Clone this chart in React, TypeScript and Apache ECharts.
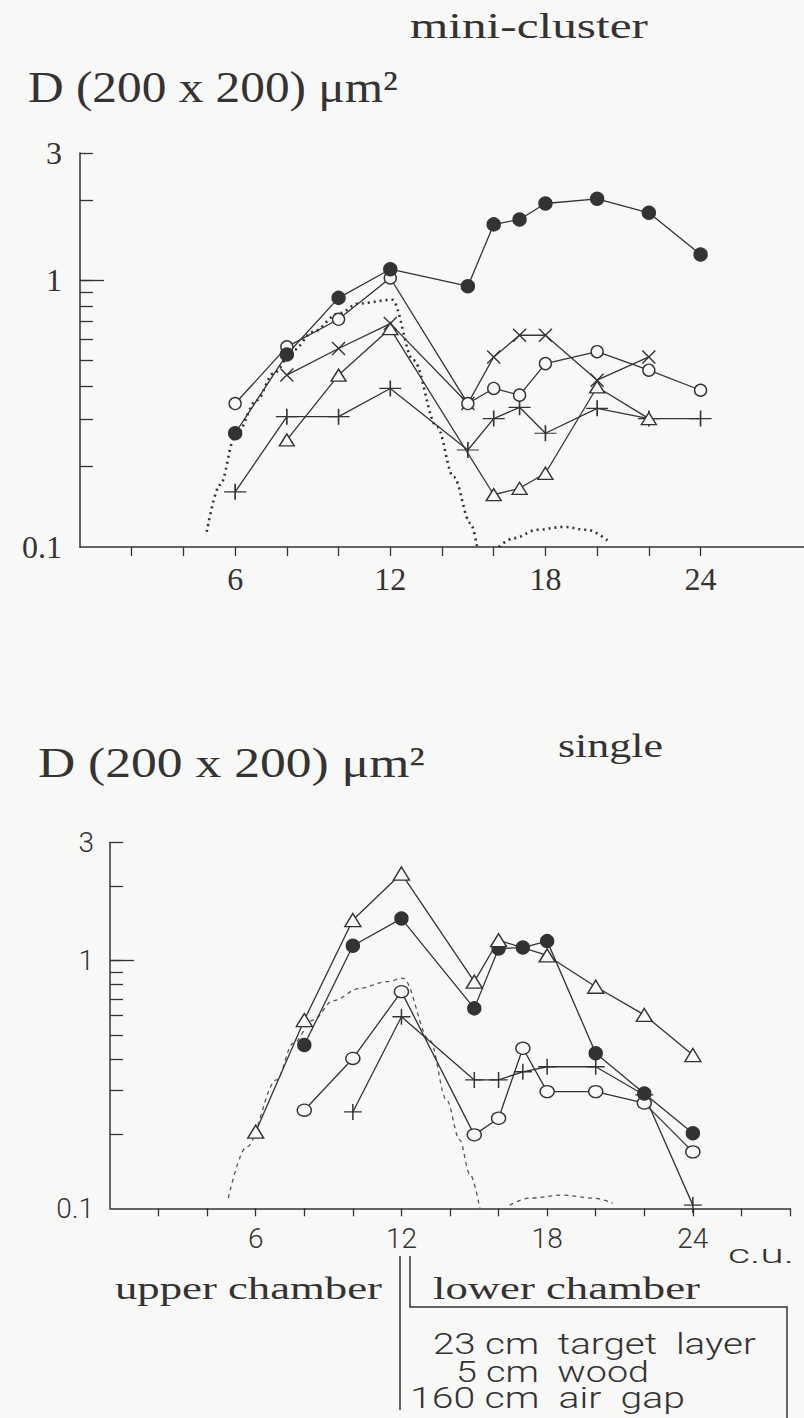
import React, { useEffect, useRef } from 'react';
import * as echarts from 'echarts';

const BG = '#f8f8f6';
const INK = '#333333';
const SERIF = '"Liberation Serif", "Times New Roman", serif';
const SANS = 'Roboto, "DejaVu Sans", sans-serif';

// ---------- top panel: mini-cluster ----------
const topFilled = [[6, 0.267], [8, 0.527], [10, 0.859], [12, 1.10], [15, 0.95], [16, 1.62], [17, 1.69], [18, 1.94], [20, 2.02], [22, 1.79], [24, 1.25]];
const topOpen = [[6, 0.345], [8, 0.563], [10, 0.714], [12, 1.02], [15, 0.345], [16, 0.393], [17, 0.371], [18, 0.487], [20, 0.54], [22, 0.46], [24, 0.387]];
const topCross = [[8, 0.441], [10, 0.555], [12, 0.688], [15, 0.345], [16, 0.516], [17, 0.622], [18, 0.622], [20, 0.422], [22, 0.516]];
const topTriangle = [[8, 0.252], [10, 0.441], [12, 0.659], [16, 0.157], [17, 0.166], [18, 0.189], [20, 0.398], [22, 0.303]];
const topPlus = [[6, 0.161], [8, 0.308], [10, 0.308], [12, 0.393], [15, 0.231], [16, 0.303], [17, 0.334], [18, 0.267], [20, 0.331], [22, 0.303], [24, 0.303]];
const topCalcMain = [[4.9, 0.114], [5.42, 0.171], [6.0, 0.259], [6.84, 0.355], [7.48, 0.447], [8.26, 0.547], [9, 0.64], [10, 0.75], [10.77, 0.818], [12.07, 0.845], [12.9, 0.501], [13.81, 0.282], [14.45, 0.183], [15.1, 0.123], [15.36, 0.1]];
const topCalcTail = [[16.2, 0.1], [16.78, 0.108], [17.68, 0.116], [18.7, 0.119], [19.6, 0.116], [20.5, 0.104]];

// ---------- bottom panel: single ----------
const botTriangle = [[6, 0.204], [8, 0.576], [10, 1.46], [12, 2.25], [15, 0.823], [16, 1.21], [18, 1.05], [20, 0.785], [22, 0.604], [24, 0.416]];
const botFilled = [[8, 0.457], [10, 1.15], [12, 1.48], [15, 0.642], [16, 1.12], [17, 1.13], [18, 1.20], [20, 0.423], [22, 0.291], [24, 0.201]];
const botOpen = [[8, 0.249], [10, 0.403], [12, 0.75], [15, 0.198], [16, 0.231], [17, 0.443], [18, 0.296], [20, 0.296], [22, 0.266], [24, 0.169]];
const botPlus = [[10, 0.245], [12, 0.594], [15, 0.33], [16, 0.33], [17, 0.356], [18, 0.373], [20, 0.373], [22, 0.287], [24, 0.103]];
const botCalcMain = [[4.87, 0.11], [5.62, 0.177], [6.86, 0.33], [7.54, 0.464], [8.37, 0.576], [9.19, 0.69], [10.29, 0.774], [11.39, 0.823], [12.07, 0.849], [13.17, 0.478], [13.86, 0.274], [14.4, 0.189], [14.81, 0.138], [15.23, 0.1]];
const botCalcTail = [[16.46, 0.103], [17.28, 0.11], [18.65, 0.113], [19.89, 0.11], [20.7, 0.105]];

// ---------- axes ----------
const xLabelValues = [6, 12, 18, 24];
const topXTicks = [2, 4, 6, 8, 10, 12, 14, 16, 18, 20, 22, 24];
const botXTicks = [2, 4, 6, 8, 10, 12, 14, 16, 18, 20, 22, 24, 26, 28];
const yLabelValues = [0.1001, 1, 2.999];
const yTickValues = [0.2, 0.3, 0.4, 0.5, 0.6, 0.7, 0.8, 0.9, 1, 2, 2.999];
const yMajorTickValues = [1];

const CROSS = 'path://M0,0L10,10M10,0L0,10';
const PLUS = 'path://M5,0L5,10M0,5L10,5';

function fmtY(v: number) {
  if (v < 0.5) return '0.1';
  return String(Math.round(v));
}

export default function App() {
  const ref = useRef<HTMLDivElement>(null);
  useEffect(() => {
    const chart = echarts.init(ref.current!, null, { renderer: 'svg' });
    const ctx = document.createElement('canvas').getContext('2d');
    const stretched = (text: string, left: number, cy: number, width: number, fontSize: number, family: string, face: string, weight: any = 'normal') => {
      let w = text.length * fontSize * 0.5;
      if (ctx) {
        ctx.font = `${weight} ${fontSize}px ${face}`;
        w = ctx.measureText(text).width;
      }
      return {
        type: 'text', x: left, y: cy, scaleX: width / w,
        style: { text, fontSize, fontFamily: family, fontWeight: weight, fill: INK, textAlign: 'left', textVerticalAlign: 'middle' },
      };
    };

    const line = (xi: number, name: string, data: number[][], symbol: string, size: any, fill: string, bw = 1.4) => ({
      type: 'line', name, xAxisIndex: xi, yAxisIndex: xi, data,
      symbol, symbolSize: size, showSymbol: true,
      itemStyle: { color: fill, borderColor: INK, borderWidth: bw },
      lineStyle: { color: INK, width: 1.3 },
      emphasis: { disabled: true }, z: 3,
    });
    const calc = (xi: number, data: number[][], style: any) => ({
      type: 'line', xAxisIndex: xi, yAxisIndex: xi, data, showSymbol: false, symbol: 'none',
      smooth: 0.35, smoothMonotone: 'x', lineStyle: style, z: 2, emphasis: { disabled: true },
    });

    const xAxis = (gi: number, ticks: number[], labelFont: any, tickLen: number) => ({
      type: 'value', gridIndex: gi, min: 0, max: 28, interval: 2,
      axisLine: { show: true, lineStyle: { color: INK, width: 1.5 } },
      axisTick: { show: true, inside: false, length: tickLen, customValues: ticks, lineStyle: { color: INK, width: 1.3 } },
      axisLabel: { customValues: xLabelValues, color: INK, margin: 16, ...labelFont },
      splitLine: { show: false },
    });
    const yAxis = (gi: number, labelFont: any, margin: number) => ({
      type: 'log', logBase: 10, gridIndex: gi, min: 0.1, max: 3,
      axisLine: { show: true, lineStyle: { color: INK, width: 1.5 } },
      axisTick: { show: true, inside: true, length: 13, customValues: yTickValues, lineStyle: { color: INK, width: 1.3 } },
      axisLabel: { customValues: yLabelValues, formatter: fmtY, color: INK, margin, ...labelFont },
      splitLine: { show: false }, minorTick: { show: false },
    });
    const yMajor = (gi: number) => ({
      type: 'log', logBase: 10, gridIndex: gi, min: 0.1, max: 3, position: 'left',
      axisLine: { show: false },
      axisTick: { show: true, inside: true, length: 24, customValues: yMajorTickValues, lineStyle: { color: INK, width: 1.3 } },
      axisLabel: { show: false }, splitLine: { show: false },
    });

    const option: any = {
      animation: false,
      backgroundColor: BG,
      grid: [
        { left: 80, top: 153, width: 724, height: 394 },
        { left: 110, top: 842.6, width: 680, height: 365.7 },
      ],
      xAxis: [
        xAxis(0, topXTicks, { fontFamily: SERIF, fontSize: 32 }, 9),
        xAxis(1, botXTicks, { fontFamily: SANS, fontSize: 28, fontWeight: 300 }, 8),
      ],
      yAxis: [
        yAxis(0, { fontFamily: SERIF, fontSize: 32 }, 18),
        yAxis(1, { fontFamily: SANS, fontSize: 28, fontWeight: 300 }, 16),
        yMajor(0),
        yMajor(1),
      ],
      series: [
        calc(0, topCalcMain, { color: INK, width: 2.6, type: [2, 4] }),
        calc(0, topCalcTail, { color: INK, width: 2.6, type: [2, 4] }),
        line(0, 'plus', topPlus, PLUS, [22, 16], INK),
        line(0, 'triangle', topTriangle, 'triangle', [15, 12], BG),
        line(0, 'cross', topCross, CROSS, [13, 13], INK),
        line(0, 'open', topOpen, 'circle', 12, BG),
        line(0, 'filled', topFilled, 'circle', 13, INK),

        calc(1, botCalcMain, { color: '#555', width: 1.3, type: [4, 4] }),
        calc(1, botCalcTail, { color: '#555', width: 1.3, type: [4, 4] }),
        line(1, 'plus', botPlus, PLUS, [18, 16], INK),
        line(1, 'open', botOpen, 'circle', [14, 12], BG),
        line(1, 'filled', botFilled, 'circle', 13, INK),
        line(1, 'triangle', botTriangle, 'triangle', [16, 13], BG),
      ],
      graphic: [
        stretched('mini-cluster', 410, 26, 238, 36, SERIF, '"Liberation Serif"'),
        stretched('D (200 x 200) \u03bcm\u00b2', 28, 87, 370, 44, SERIF, '"Liberation Serif"'),
        stretched('single', 558, 745, 105, 34, SERIF, '"Liberation Serif"'),
        stretched('D (200 x 200) \u03bcm\u00b2', 38, 763, 387, 42, SERIF, '"Liberation Serif"'),
        stretched('c.u.', 728, 1254, 66, 26, SANS, 'Roboto', 300),
        stretched('upper chamber', 115, 1289, 267, 31, SERIF, '"Liberation Serif"'),
        stretched('lower chamber', 433, 1289, 267, 31, SERIF, '"Liberation Serif"'),
        stretched('23 cm  target  layer', 433, 1344, 323, 29, SANS, 'Roboto', 300),
        stretched('5 cm  wood', 456, 1372, 193, 29, SANS, 'Roboto', 300),
        stretched('160 cm  air  gap', 410, 1398, 275, 29, SANS, 'Roboto', 300),
        { type: 'line', shape: { x1: 400, y1: 1256, x2: 400, y2: 1410 }, style: { stroke: INK, lineWidth: 1.5 } },
        { type: 'polyline', shape: { points: [[410, 1256], [410, 1307], [787, 1307], [787, 1418]] }, style: { stroke: INK, lineWidth: 1.5, fill: 'none' } },
      ],
    };
    chart.setOption(option);
    return () => chart.dispose();
  }, []);
  return <div ref={ref} style={{ position: 'absolute', left: 0, top: 0, width: 804, height: 1418, background: BG }} />;
}
